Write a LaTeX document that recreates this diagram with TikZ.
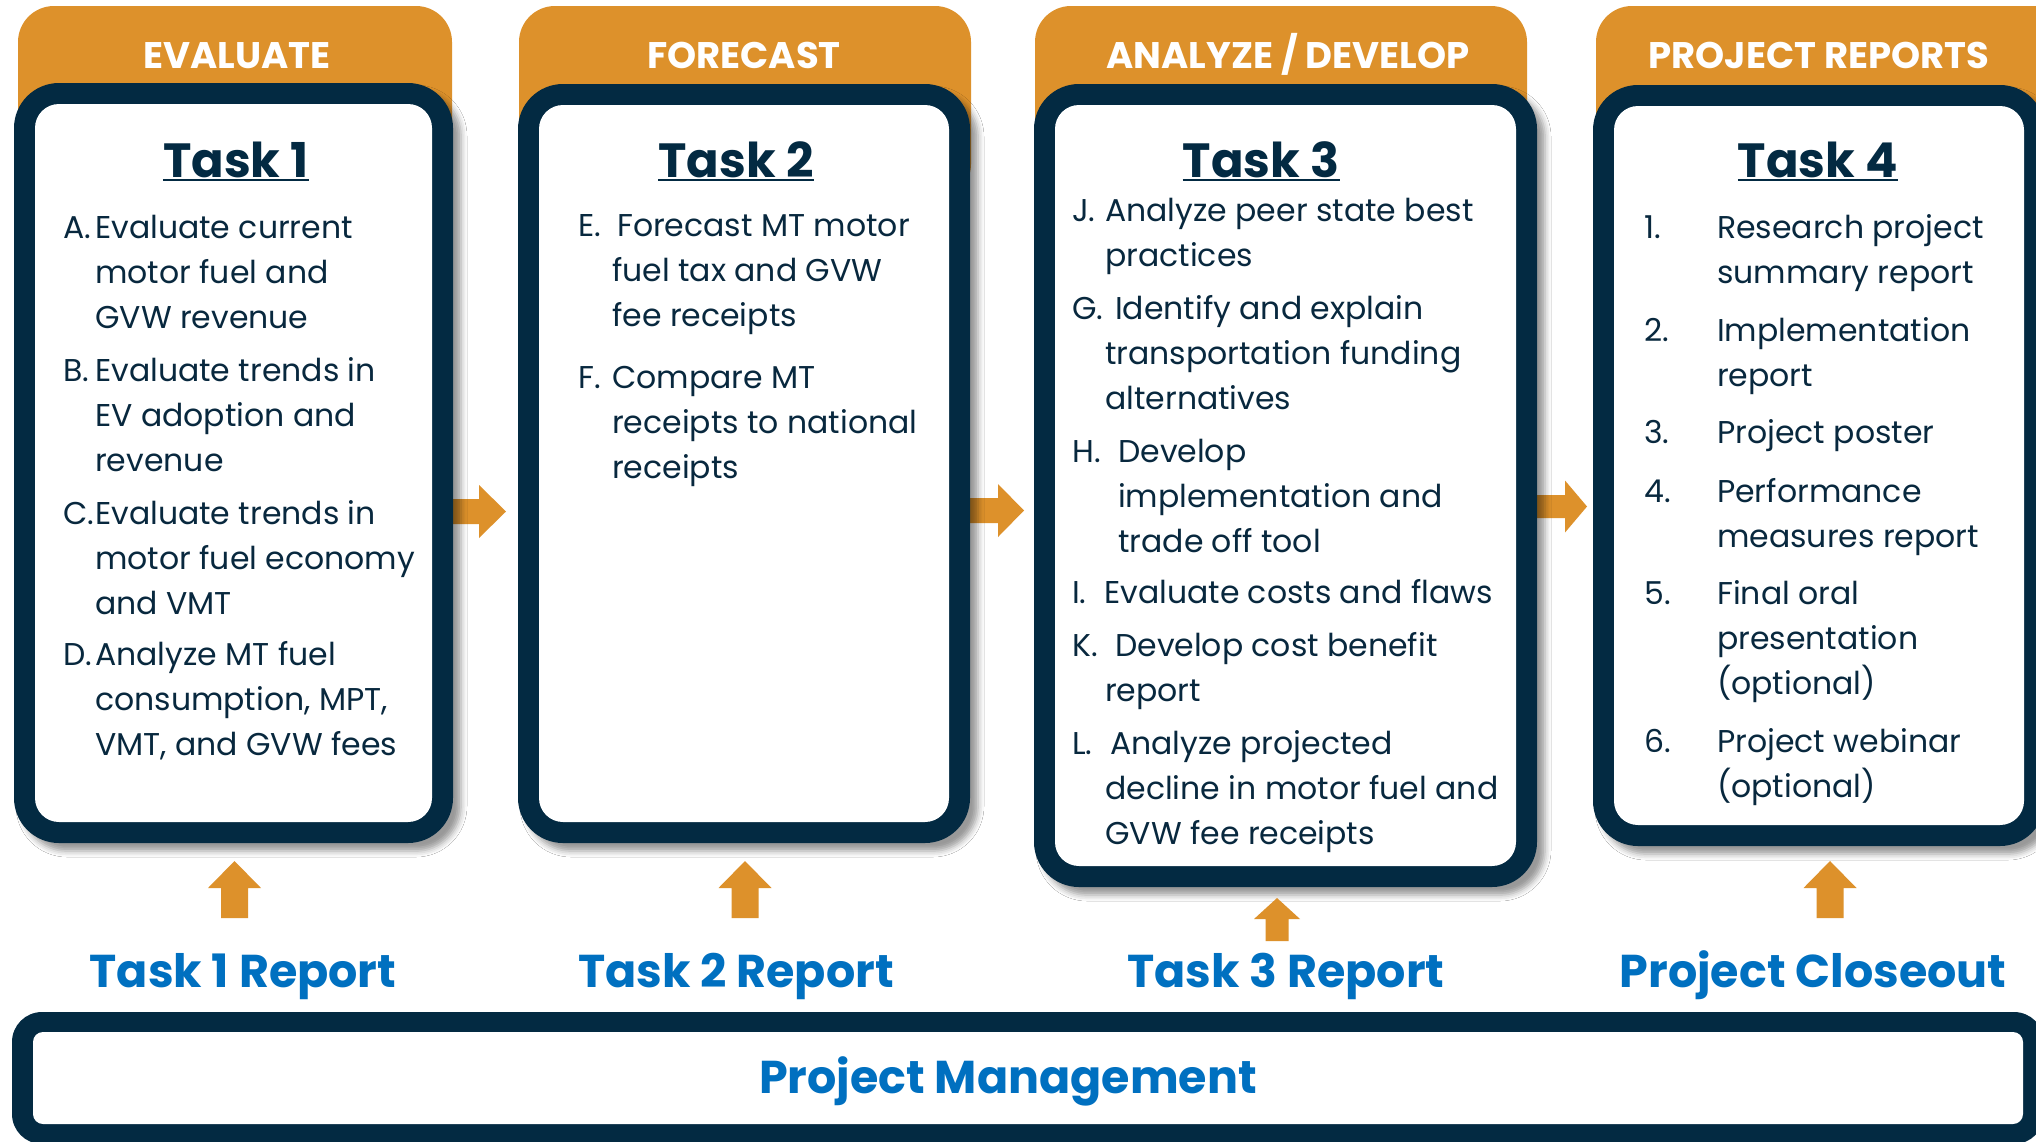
\documentclass[tikz,border=0pt]{standalone}
\usepackage{fontspec}
\setmainfont{Poppins}
\usetikzlibrary{calc,shadows.blur}
\definecolor{tabor}{RGB}{221,145,43}
\definecolor{navy}{RGB}{3,42,66}
\definecolor{inkc}{RGB}{8,40,62}
\definecolor{repblue}{RGB}{0,112,192}

% filled block arrow pointing right: shaft start, tip, shaft half width, head half width, head length
\newcommand{\rblock}[5]{%
  \fill[tabor] let \p1=(#1), \p2=(#2) in
    (\x1,\y2+#3pt) -- (\x2-#5pt,\y2+#3pt) -- (\x2-#5pt,\y2+#4pt) -- (\x2,\y2)
    -- (\x2-#5pt,\y2-#4pt) -- (\x2-#5pt,\y2-#3pt) -- (\x1,\y2-#3pt) -- cycle;}
% filled block arrow pointing up: shaft bottom, tip, shaft half width, head half width, head length
\newcommand{\ublock}[5]{%
  \fill[tabor] let \p1=(#1), \p2=(#2) in
    (\x2-#3pt,\y1) -- (\x2-#3pt,\y2-#5pt) -- (\x2-#4pt,\y2-#5pt) -- (\x2,\y2)
    -- (\x2+#4pt,\y2-#5pt) -- (\x2+#3pt,\y2-#5pt) -- (\x2+#3pt,\y1) -- cycle;}
% one list entry: name, label x, text x, baseline y, label, lines
\newcommand{\entry}[6]{%
  \node[body] (#1l) at (#2,#4) {#5};
  \node[body] (#1) at (#3,#4) {\parbox[t]{440pt}{#6}};}

\begin{document}
\begin{tikzpicture}[x=1pt,y=-1pt,
  tabshape/.style={fill=tabor, rounded corners=36pt},
  tabtext/.style={text=white, font=\fontsize{37}{42}\selectfont\bfseries, anchor=base, inner sep=0},
  taskbox/.style={fill=navy, rounded corners=45pt, inner sep=0, outer sep=0,
    blur shadow={shadow xshift=8pt, shadow yshift=-8pt, shadow blur radius=6pt, shadow opacity=40}},
  pmbox/.style={fill=navy, rounded corners=30pt, inner sep=0, outer sep=0},
  title/.style={text=navy, font=\fontsize{48}{52}\selectfont\bfseries, anchor=base, inner sep=0},
  uline/.style={draw=navy, line width=2.5pt},
  body/.style={text=inkc, font=\fontsize{31.5}{45}\selectfont, anchor=base west, inner sep=0},
  report/.style={text=repblue, font=\fontsize{46}{50}\selectfont\bfseries, anchor=base, inner sep=0}]

\clip (0,0) rectangle (2036,1141);
\fill[white] (0,0) rectangle (2036,1141);

% phase tabs
\path[tabshape] (18,6) rectangle (452,200);
\path[tabshape] (519,6) rectangle (971,200);
\path[tabshape] (1035,6) rectangle (1527,200);
\path[tabshape] (1596,6) rectangle (2080,200);
\node[tabtext] (h1) at (237,68) {EVALUATE};
\node[tabtext] (h2) at (744,68) {FORECAST};
\node[tabtext] (h3) at (1288,68) {ANALYZE / DEVELOP};
\node[tabtext] (h4) at (1819,68) {PROJECT REPORTS};

% task box outlines (placed first so the flow arrows can tuck under them)
\path (233.5,463) coordinate (c1) (744,463.5) coordinate (c2)
      (1285.5,485.5) coordinate (c3) (1819,465.5) coordinate (c4);
\node[minimum width=439pt, minimum height=760pt, inner sep=0, outer sep=0] (b1) at (c1) {};
\node[minimum width=452pt, minimum height=759pt, inner sep=0, outer sep=0] (b2) at (c2) {};
\node[minimum width=503pt, minimum height=803pt, inner sep=0, outer sep=0] (b3) at (c3) {};
\node[minimum width=452pt, minimum height=761pt, inner sep=0, outer sep=0] (b4) at (c4) {};

% flow arrows between the tasks
\coordinate (a1s) at ($(b1.east)+(-20,48)$);
\coordinate (a1t) at ($(b2.west)+(-12,48)$);
\coordinate (a2s) at ($(b2.east)+(-20,47)$);
\coordinate (a2t) at ($(b3.west)+(-10,25)$);
\coordinate (a3s) at ($(b3.east)+(-20,21)$);
\coordinate (a3t) at ($(b4.west)+(-6,41)$);
\rblock{a1s}{a1t}{12.5}{26.5}{27}
\rblock{a2s}{a2t}{12.5}{26.5}{26}
\rblock{a3s}{a3t}{11.5}{26}{22}

% task boxes
\foreach \b in {b1,b2,b3,b4}{
  \path[taskbox] (\b.north west) rectangle (\b.south east);
  \fill[white, rounded corners=24pt] ($(\b.north west)+(21,21)$) rectangle ($(\b.south east)+(-21,-21)$);
}

% titles
\node[title] (t1) at (236,177) {Task 1};
\node[title] (t2) at (736,177) {Task 2};
\node[title] (t3) at (1261,177) {Task 3};
\node[title] (t4) at (1818,177) {Task 4};
\foreach \t in {t1,t2,t3,t4}{
  \draw[uline] ($(\t.base west)+(0,3)$) -- ($(\t.base east)+(0,3)$);
}

% Task 1 list
\entry{e1a}{63}{95}{238}{A.}{Evaluate current\\motor fuel and\\GVW revenue}
\entry{e1b}{63}{95}{381}{B.}{Evaluate trends in\\EV adoption and\\revenue}
\entry{e1c}{63}{95}{524}{C.}{Evaluate trends in\\motor fuel economy\\and VMT}
\entry{e1d}{63}{95}{665}{D.}{Analyze MT fuel\\consumption, MPT,\\VMT, and GVW fees}

% Task 2 list
\entry{e2e}{578}{612}{236}{E.}{\hspace*{5pt}Forecast MT motor\\fuel tax and GVW\\fee receipts}
\entry{e2f}{578}{612}{388}{F.}{Compare MT\\receipts to national\\receipts}

% Task 3 list
\entry{e3j}{1072}{1105}{221}{J.}{Analyze peer state best\\practices}
\entry{e3g}{1072}{1105}{319}{G.}{\hspace*{10pt}Identify and explain\\transportation funding\\alternatives}
\entry{e3h}{1072}{1118}{462}{H.}{Develop\\implementation and\\trade off tool}
\entry{e3i}{1072}{1104}{603}{I.}{Evaluate costs and flaws}
\entry{e3k}{1072}{1105}{656}{K.}{\hspace*{10pt}Develop cost benefit\\report}
\entry{e3l}{1072}{1105}{754}{L.}{\hspace*{5pt}Analyze projected\\decline in motor fuel and\\GVW fee receipts}

% Task 4 list
\entry{e41}{1644}{1717}{238}{1.}{Research project\\summary report}
\entry{e42}{1644}{1717}{341}{2.}{Implementation\\report}
\entry{e43}{1644}{1717}{443}{3.}{Project poster}
\entry{e44}{1644}{1717}{502}{4.}{Performance\\measures report}
\entry{e45}{1644}{1717}{604}{5.}{Final oral\\presentation\\(optional)}
\entry{e46}{1644}{1717}{752}{6.}{Project webinar\\(optional)}

% deliverables
\node[report] (r1) at (243,987) {Task 1 Report};
\node[report] (r2) at (736,987) {Task 2 Report};
\node[report] (r3) at (1286,987) {Task 3 Report};
\node[report] (r4) at (1813,987) {Project Closeout};

\coordinate (u1t) at ($(b1.south)+(1,18)$);
\coordinate (u1b) at ($(b1.south)+(1,75)$);
\coordinate (u2t) at ($(b2.south)+(1,18)$);
\coordinate (u2b) at ($(b2.south)+(1,75)$);
\coordinate (u3t) at ($(b3.south)+(-8.5,11)$);
\coordinate (u3b) at ($(b3.south)+(-8.5,54)$);
\coordinate (u4t) at ($(b4.south)+(11,15)$);
\coordinate (u4b) at ($(b4.south)+(11,72)$);
\ublock{u1b}{u1t}{13.5}{26.5}{27}
\ublock{u2b}{u2t}{13.5}{26.5}{27}
\ublock{u3b}{u3t}{11.5}{23}{21}
\ublock{u4b}{u4t}{13.5}{26.5}{27}

% project management band
\node[minimum width=2032pt, minimum height=132pt, inner sep=0, outer sep=0] (pm) at (1028,1078) {};
\path[pmbox] (pm.north west) rectangle (pm.south east);
\fill[white, rounded corners=10pt] ($(pm.north west)+(21,20)$) rectangle ($(pm.south east)+(-21,-20)$);
\node[report] (pml) at (1008,1093) {Project Management};

\end{tikzpicture}
\end{document}
